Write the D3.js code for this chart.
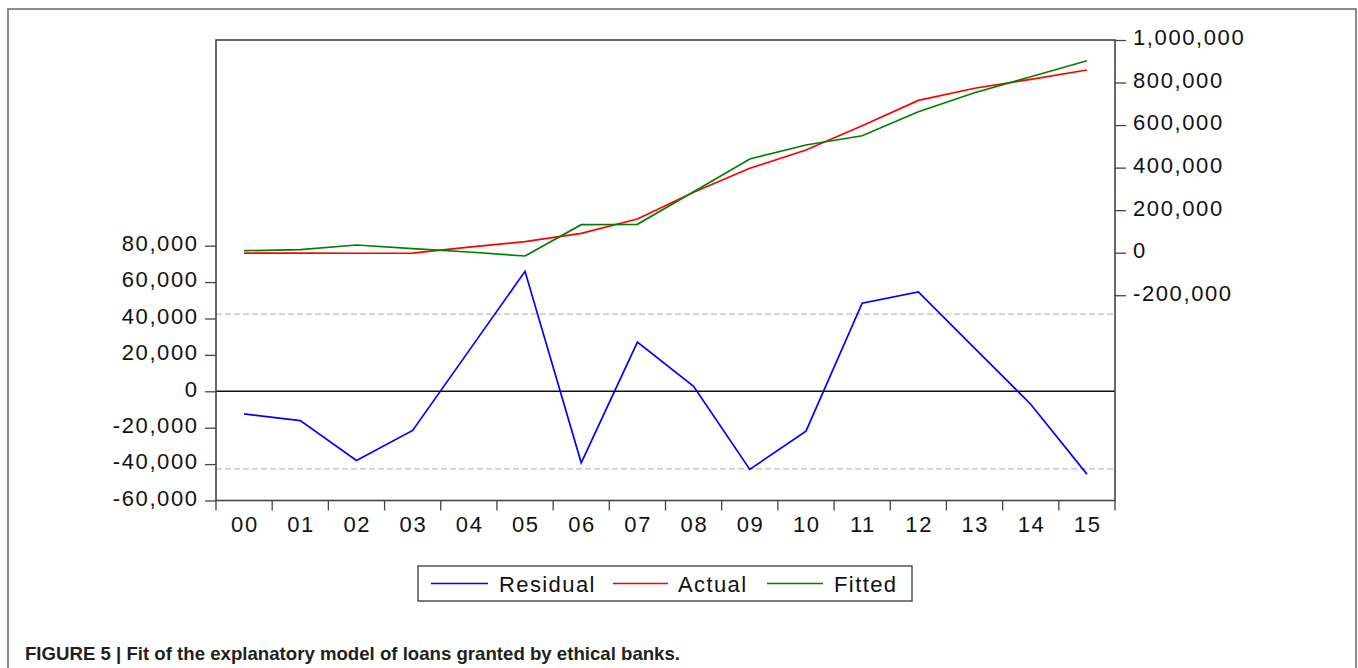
<!DOCTYPE html>
<html>
<head>
<meta charset="utf-8">
<script src="https://cdn.jsdelivr.net/npm/d3@7"></script>
<style>
  html, body { margin: 0; padding: 0; background: #fff; }
  svg { display: block; }
  .tick text, .lbl { font-family: "Liberation Sans", Arial, Helvetica, sans-serif; fill: #111; }
</style>
</head>
<body>
<svg id="chart" width="1358" height="668"></svg>
<script>
// Years of the sample (2000-2015)
const years = ["00","01","02","03","04","05","06","07","08","09","10","11","12","13","14","15"];

// Residual series (left axis)
const residual = [-12400, -16100, -38000, -21500, 22200, 65900, -39300, 27000,
                  2700, -42900, -21900, 48400, 54600, 23700, -7100, -45500];

// Actual loans (right axis)
const actual = [-2000, -2000, -2500, -2000, 25900, 51700, 91200, 158400,
                284000, 396800, 482800, 597000, 716000, 773000, 815000, 859000];

// Fitted values (right axis)
const fitted = [9400, 14100, 36200, 18800, 3300, -15500, 131600, 133500,
                286800, 440500, 506300, 550000, 663000, 752000, 827000, 902700];

// Standard error band of the residuals
const seBand = [42400, -42600];

// Axis ticks
const leftTicks = [-60000, -40000, -20000, 0, 20000, 40000, 60000, 80000];
const leftTickLabels = ["-60,000", "-40,000", "-20,000", "0", "20,000", "40,000", "60,000", "80,000"];
const rightTicks = [-200000, 0, 200000, 400000, 600000, 800000, 1000000];
const rightTickLabels = ["-200,000", "0", "200,000", "400,000", "600,000", "800,000", "1,000,000"];

const seriesNames = ["Residual", "Actual", "Fitted"];
const seriesColors = ["#0000ff", "#ff0000", "#008000"];

const svg = d3.select("#chart");

// plot box
const L = 216, R = 1115, T = 40, B = 500.5;

const x = d3.scaleBand().domain(years).range([L, R]).padding(0);
const xc = d => x(d) + x.bandwidth() / 2;
const yL = d3.scaleLinear().domain([-60000, 193000]).range([B, T]);
const yR = d3.scaleLinear().domain([-1165000, 1000000]).range([B, T]);

// outer figure frame (open at the bottom)
svg.append("path")
  .attr("d", `M8,668 V9 H1356 V668`)
  .attr("fill", "none").attr("stroke", "#666").attr("stroke-width", 1.5);

// standard error guides
svg.selectAll("line.se").data(seBand).join("line")
  .attr("class", "se")
  .attr("x1", L).attr("x2", R)
  .attr("y1", d => yL(d)).attr("y2", d => yL(d))
  .attr("stroke", "#bdbdbd").attr("stroke-width", 1.3)
  .attr("stroke-dasharray", "6,3");

// zero line for residuals
svg.append("line")
  .attr("x1", L).attr("x2", R).attr("y1", yL(0)).attr("y2", yL(0))
  .attr("stroke", "#111").attr("stroke-width", 1.5);

// left axis (residuals)
const gL = svg.append("g").attr("transform", `translate(${L},0)`)
  .call(d3.axisLeft(yL).tickValues(leftTicks).tickSize(11).tickPadding(8)
        .tickFormat((d, i) => leftTickLabels[i]));
gL.select(".domain").remove();
gL.selectAll(".tick line").attr("stroke", "#444").attr("stroke-width", 1.3);
gL.selectAll(".tick text").attr("font-size", 22).attr("letter-spacing", "1.6px")
  .attr("dy", "0.22em").attr("dx", "1.6px");

// right axis (actual / fitted)
const gR = svg.append("g").attr("transform", `translate(${R},0)`)
  .call(d3.axisRight(yR).tickValues(rightTicks).tickSize(11).tickPadding(7)
        .tickFormat((d, i) => rightTickLabels[i]));
gR.select(".domain").remove();
gR.selectAll(".tick line").attr("stroke", "#444").attr("stroke-width", 1.3);
gR.selectAll(".tick text").attr("font-size", 22).attr("letter-spacing", "1.6px")
  .attr("dy", "0.22em");

// bottom axis: ticks on band edges, labels centred in each band
const gB = svg.append("g").attr("transform", `translate(0,${B})`);
const edges = years.map(d => x(d)).concat([R]);
gB.selectAll("line").data(edges).join("line")
  .attr("x1", d => d).attr("x2", d => d).attr("y1", 0).attr("y2", 10)
  .attr("stroke", "#444").attr("stroke-width", 1.3);
gB.selectAll("text").data(years).join("text")
  .attr("class", "lbl")
  .attr("x", d => xc(d) + 0.8).attr("y", 31.5)
  .attr("text-anchor", "middle")
  .attr("font-size", 22).attr("letter-spacing", "1.6px")
  .text(d => d);

// plot frame
svg.append("rect")
  .attr("x", L).attr("y", T).attr("width", R - L).attr("height", B - T)
  .attr("fill", "none").attr("stroke", "#444").attr("stroke-width", 1.6);

// series lines
const lineL = d3.line().x((d, i) => xc(years[i])).y(d => yL(d));
const lineR = d3.line().x((d, i) => xc(years[i])).y(d => yR(d));

svg.append("path").datum(actual)
  .attr("d", lineR).attr("fill", "none")
  .attr("stroke", seriesColors[1]).attr("stroke-width", 1.7);
svg.append("path").datum(fitted)
  .attr("d", lineR).attr("fill", "none")
  .attr("stroke", seriesColors[2]).attr("stroke-width", 1.7);
svg.append("path").datum(residual)
  .attr("d", lineL).attr("fill", "none")
  .attr("stroke", seriesColors[0]).attr("stroke-width", 1.7);

// legend
const lg = svg.append("g");
lg.append("rect").attr("x", 418).attr("y", 566).attr("width", 494).attr("height", 35)
  .attr("fill", "#fff").attr("stroke", "#444").attr("stroke-width", 1.4);
const legendItems = [
  { x1: 431, x2: 488, tx: 499 },
  { x1: 613, x2: 668, tx: 678 },
  { x1: 767, x2: 823, tx: 834 }
];
legendItems.forEach((it, i) => {
  lg.append("line").attr("x1", it.x1).attr("x2", it.x2).attr("y1", 583.5).attr("y2", 583.5)
    .attr("stroke", seriesColors[i]).attr("stroke-width", 1.7);
  lg.append("text").attr("class", "lbl").attr("x", it.tx).attr("y", 591.5)
    .attr("font-size", 22).attr("letter-spacing", "1.4px")
    .text(seriesNames[i]);
});

// caption
svg.append("text")
  .attr("x", 25).attr("y", 660)
  .attr("font-family", "'Liberation Sans', Arial, sans-serif")
  .attr("font-weight", "bold").attr("font-size", 18.5).attr("fill", "#231f20")
  .attr("textLength", 655).attr("lengthAdjust", "spacingAndGlyphs")
  .text("FIGURE 5 | Fit of the explanatory model of loans granted by ethical banks.");
</script>
</body>
</html>
